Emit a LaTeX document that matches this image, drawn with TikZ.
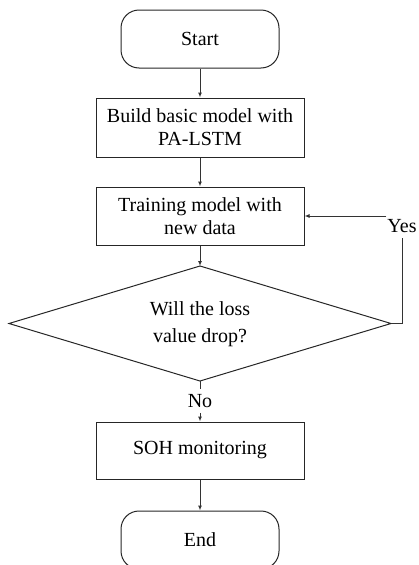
\documentclass[tikz,border=0pt]{standalone}
\usepackage{fontspec}
\setmainfont{Liberation Serif}
\usetikzlibrary{arrows.meta}
\begin{document}
\begin{tikzpicture}[x=1pt,y=-1pt,
  font=\fontsize{20}{23}\selectfont,
  box/.style={draw=black!85, line width=1pt, rectangle, minimum width=208pt, inner sep=0pt, align=center},
  term/.style={draw=black!85, line width=1pt, rectangle, rounded corners=18pt, minimum width=158pt, minimum height=58pt, inner sep=0pt},
  decline/.style={draw=black!85, line width=1pt},
  conn/.style={draw=black!80, line width=1pt},
  arr/.style={conn, -{Latex[length=5pt,width=4pt]}},
  lbl/.style={inner xsep=1pt, inner ysep=6pt}
]
\useasboundingbox (0,0) rectangle (419,565);
\node[term] (start) at (200,39) {Start};
\node[box, minimum height=59pt] (build) at (200,127.5) {Build basic model with\\PA-LSTM};
\node[box, minimum height=58pt] (train) at (200,216) {Training model with\\new data};
\coordinate (dtop) at (200,266);
\coordinate (dbot) at (200,381);
\coordinate (dleft) at (9,323.5);
\coordinate (dright) at (391,323.5);
\draw[decline] (dtop) -- (dright) -- (dbot) -- (dleft) -- cycle;
\node[align=center, inner sep=0pt, font=\fontsize{20}{27}\selectfont] (dectext) at (200,324.5) {Will the loss\\value drop?};
\node[lbl, inner ysep=5pt] (no) at (200,401) {No};
\node[box, minimum height=57pt] (soh) at (200,450.5) {SOH monitoring};
\node[term] (endn) at (200,540) {End};
\node[lbl, anchor=base] (yes) at (402,232) {Yes};

\draw[arr] (start.south) -- (build.north);
\draw[arr] (build.south) -- (train.north);
\draw[arr] (train.south) -- (dtop);
\draw[conn] (dbot) -- (no.north);
\draw[arr] (no.south) -- (soh.north);
\draw[arr] (soh.south) -- (endn.north);
\draw[conn] (dright) -- (dright -| yes.south) -- (yes.south);
\draw[arr] (yes.west |- train.east) -- (train.east);
\end{tikzpicture}
\end{document}
